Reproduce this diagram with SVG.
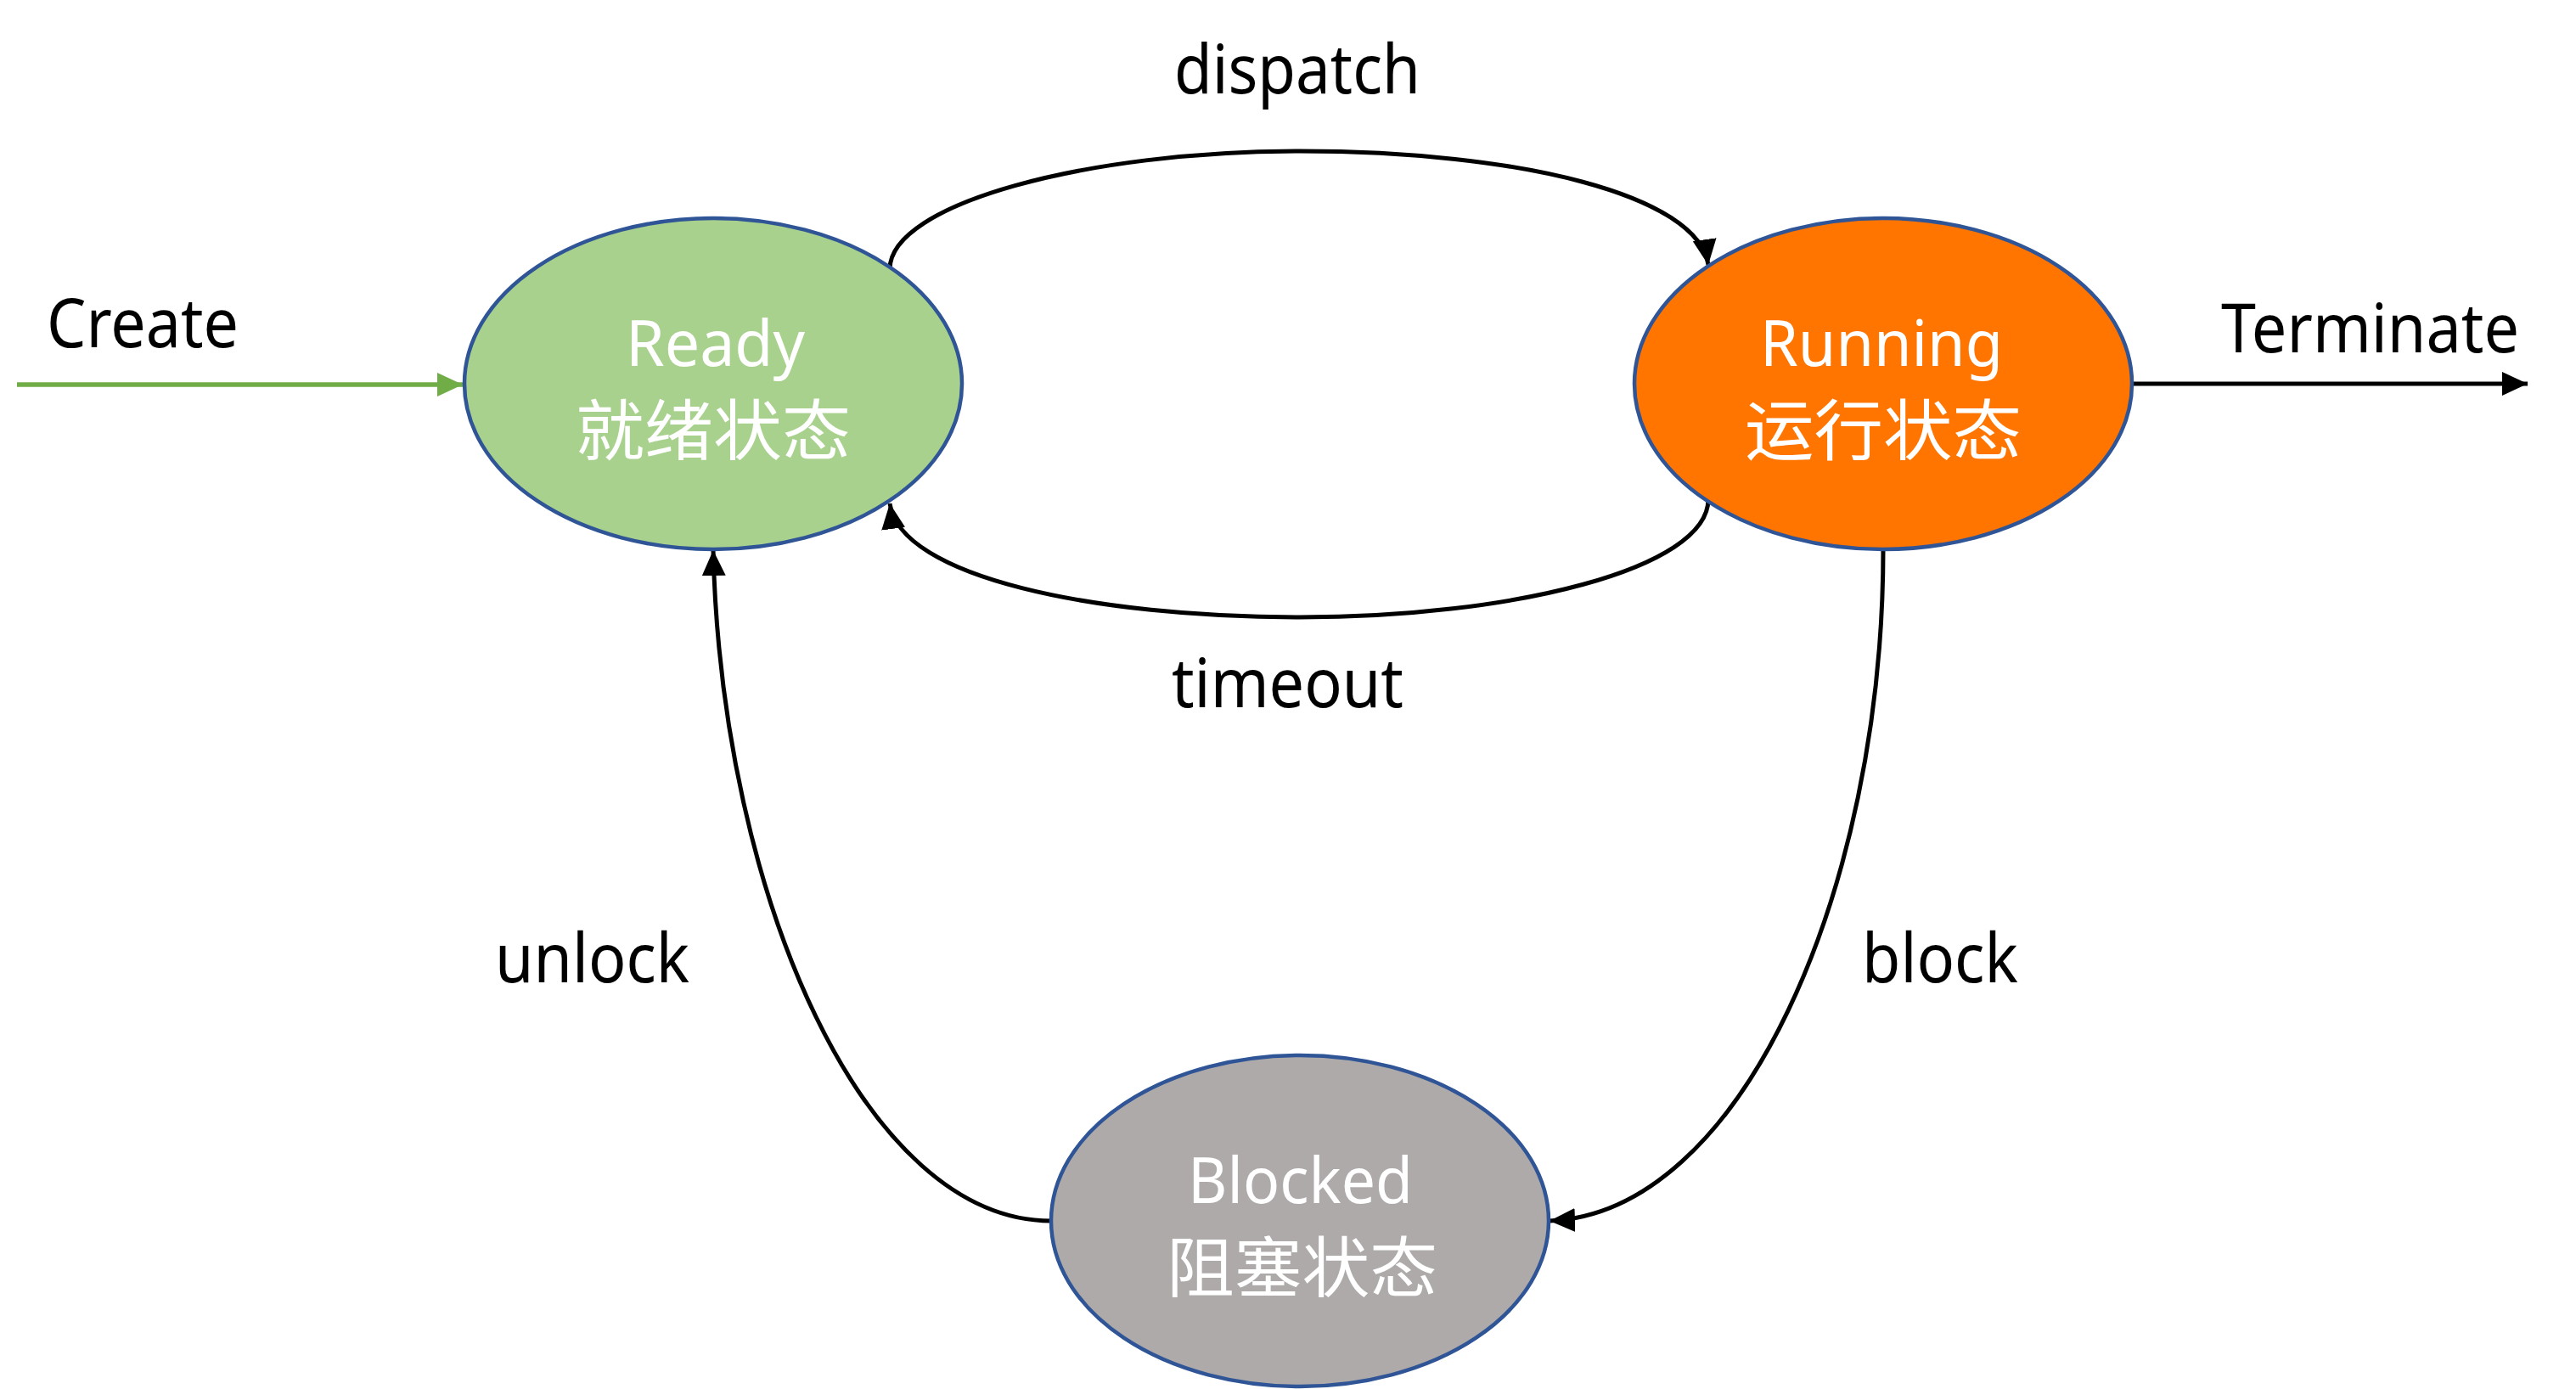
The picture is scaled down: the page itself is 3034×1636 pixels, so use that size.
<svg xmlns="http://www.w3.org/2000/svg" width="3034" height="1636" viewBox="0 0 3034 1636">
<style>
.node{stroke:#2F5597;stroke-width:4.5}
.nt{font-family:"Noto Sans","Liberation Sans",sans-serif;font-size:74px;fill:#FFFFFF}
.nc{font-family:"Noto Sans CJK SC","Noto Sans",sans-serif;font-size:78px;fill:#FFFFFF}
.lbl{font-family:"Noto Sans","Liberation Sans",sans-serif;font-size:80px;fill:#000000}
.edge{fill:none;stroke:#000000;stroke-width:5}
</style>
<defs>
<marker id="ah" markerUnits="userSpaceOnUse" markerWidth="32" markerHeight="32" viewBox="0 0 32 32" refX="30" refY="16" orient="auto">
<path d="M0,2 L30,16 L0,30 Z" fill="#000000"/>
</marker>
<marker id="ahg" markerUnits="userSpaceOnUse" markerWidth="32" markerHeight="32" viewBox="0 0 32 32" refX="30" refY="16" orient="auto">
<path d="M0,2 L30,16 L0,30 Z" fill="#70AD47"/>
</marker>
</defs>
<rect width="3034" height="1636" fill="#FFFFFF"/>
<g id="connectors">
<path d="M20,453 L545,453" fill="none" stroke="#70AD47" stroke-width="5.5" marker-end="url(#ahg)"/>
<path class="edge" d="M2510,452 L2977,452" stroke-width="6" marker-end="url(#ah)"/>
<path class="edge" d="M1048,317 C1048,240 1280,178 1531,178 C1790,178 2000,230 2012,312" marker-end="url(#ah)"/>
<path class="edge" d="M2012,588 C2012,670 1780,727 1531,727 C1290,727 1060,680 1048,593" marker-end="url(#ah)"/>
<path class="edge" d="M2218,647 C2218,1050 2050,1430 1825,1438" marker-end="url(#ah)"/>
<path class="edge" d="M1238,1438 C1020,1438 850,1060 840,648" marker-end="url(#ah)"/>
<text class="lbl" x="55" y="409" textLength="226" lengthAdjust="spacingAndGlyphs">Create</text>
<text class="lbl" x="2616" y="415" textLength="351" lengthAdjust="spacingAndGlyphs">Terminate</text>
<text class="lbl" x="1383" y="110" textLength="290" lengthAdjust="spacingAndGlyphs">dispatch</text>
<text class="lbl" x="1380" y="833" textLength="273" lengthAdjust="spacingAndGlyphs">timeout</text>
<text class="lbl" x="583" y="1157" textLength="229" lengthAdjust="spacingAndGlyphs">unlock</text>
<text class="lbl" x="2193" y="1157" textLength="184" lengthAdjust="spacingAndGlyphs">block</text>
</g>
<g id="ready">
<ellipse class="node" cx="840" cy="452" rx="293" ry="195" fill="#A9D18E"/>
<text class="nt" x="737" y="431" textLength="211" lengthAdjust="spacingAndGlyphs">Ready</text>
<text class="nc" x="678" y="536" textLength="324" lengthAdjust="spacingAndGlyphs">就绪状态</text>
</g>
<g id="running">
<ellipse class="node" cx="2218" cy="452" rx="293" ry="195" fill="#FF7500"/>
<text class="nt" x="2073" y="431" textLength="286" lengthAdjust="spacingAndGlyphs">Running</text>
<text class="nc" x="2055" y="536" textLength="326" lengthAdjust="spacingAndGlyphs">运行状态</text>
</g>
<g id="blocked">
<ellipse class="node" cx="1531" cy="1438" rx="293" ry="195" fill="#AEAAAA"/>
<text class="nt" x="1399" y="1417" textLength="265" lengthAdjust="spacingAndGlyphs">Blocked</text>
<text class="nc" x="1374" y="1522" textLength="319" lengthAdjust="spacingAndGlyphs">阻塞状态</text>
</g>
</svg>
